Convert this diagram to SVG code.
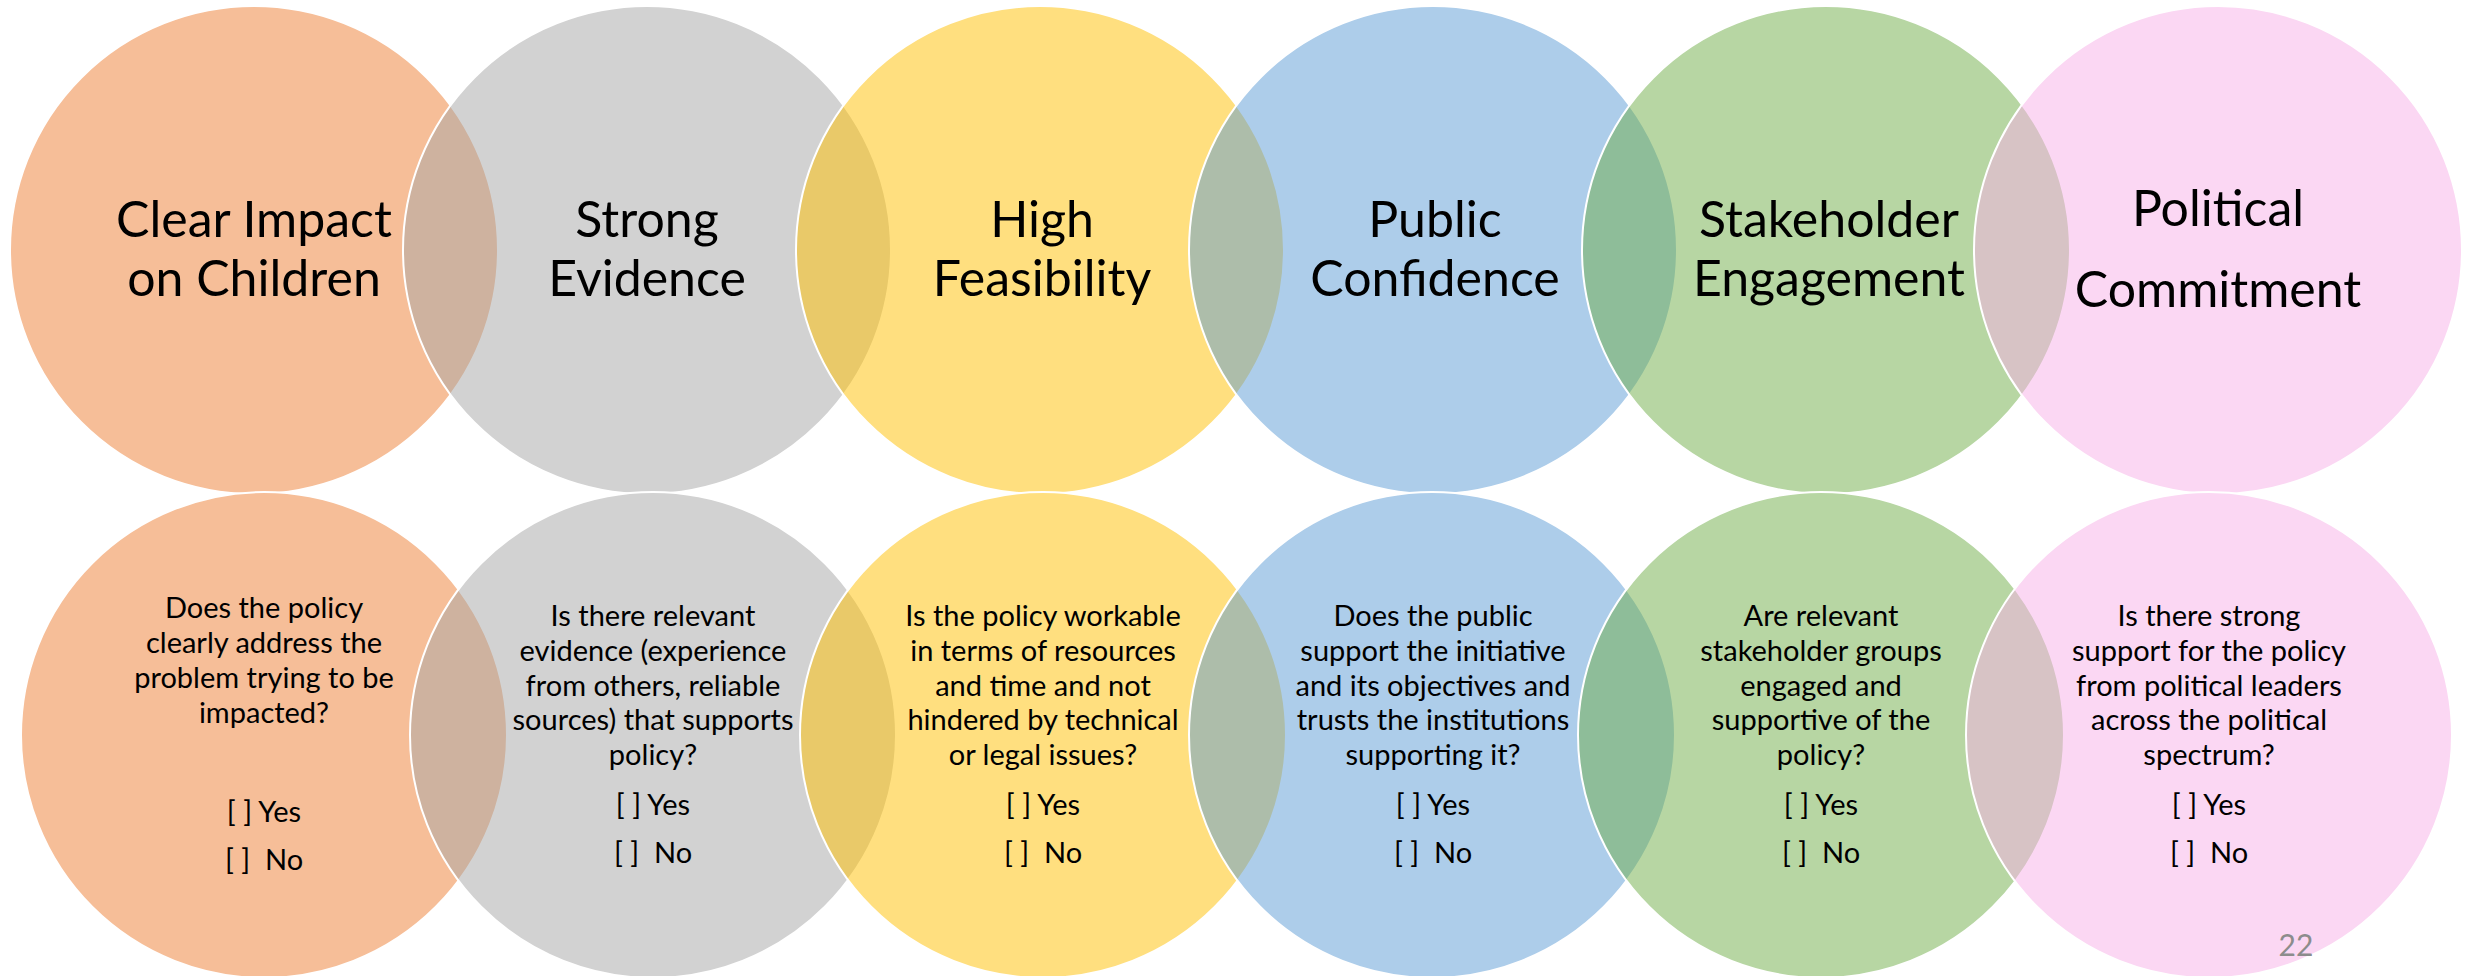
<svg xmlns="http://www.w3.org/2000/svg" width="2471" height="976" viewBox="0 0 2471 976">
<style>
.c{fill-opacity:0.5;stroke:#FFFFFF;stroke-width:2}
.o{fill:#ED7D31}.g{fill:#A5A5A5}.y{fill:#FFC000}.b{fill:#5B9BD5}.gr{fill:#70AD47}.p{fill:#F8B0E8}
.t{font-family:Lato,"Liberation Sans",sans-serif;font-size:50px;fill:#000000;text-anchor:middle}
.q{font-family:Lato,"Liberation Sans",sans-serif;font-size:29px;fill:#000000;text-anchor:middle}
.pg{font-family:Lato,"Liberation Sans",sans-serif;font-size:30px;fill:#8C8C8C;text-anchor:middle}
</style>
<rect x="0" y="0" width="2471" height="976" fill="#FFFFFF"/>
<g id="top-row">
<g id="clear-impact"><circle class="c o" cx="254" cy="250" r="244"/><text class="t"><tspan x="254" y="237">Clear Impact</tspan><tspan x="254" y="296">on Children</tspan></text></g>
<g id="strong-evidence"><circle class="c g" cx="647" cy="250" r="244"/><text class="t"><tspan x="647" y="237">Strong</tspan><tspan x="647" y="296">Evidence</tspan></text></g>
<g id="high-feasibility"><circle class="c y" cx="1040" cy="250" r="244"/><text class="t"><tspan x="1042" y="237">High</tspan><tspan x="1042" y="296">Feasibility</tspan></text></g>
<g id="public-confidence"><circle class="c b" cx="1433" cy="250" r="244"/><text class="t"><tspan x="1435" y="237">Public</tspan><tspan x="1435" y="296">Confidence</tspan></text></g>
<g id="stakeholder-engagement"><circle class="c gr" cx="1826" cy="250" r="244"/><text class="t"><tspan x="1829" y="237">Stakeholder</tspan><tspan x="1829" y="296">Engagement</tspan></text></g>
<g id="political-commitment"><circle class="c p" cx="2218" cy="250" r="244"/><text class="t"><tspan x="2218" y="226">Political</tspan><tspan x="2218" y="307">Commitment</tspan></text></g>
</g>
<g id="bottom-row">
<g id="q-impact"><circle class="c o" cx="264" cy="735" r="243"/><text class="q"><tspan x="264" y="618">Does the policy</tspan><tspan x="264" y="653">clearly address the</tspan><tspan x="264" y="688">problem trying to be</tspan><tspan x="264" y="723">impacted?</tspan><tspan x="264" y="822">[ ] Yes</tspan><tspan x="264" y="870">[ ]&#160; No</tspan></text></g>
<g id="q-evidence"><circle class="c g" cx="653" cy="735" r="243"/><text class="q"><tspan x="653" y="626">Is there relevant</tspan><tspan x="653" y="661">evidence (experience</tspan><tspan x="653" y="696">from others, reliable</tspan><tspan x="653" y="730">sources) that supports</tspan><tspan x="653" y="765">policy?</tspan><tspan x="653" y="815">[ ] Yes</tspan><tspan x="653" y="863">[ ]&#160; No</tspan></text></g>
<g id="q-feasibility"><circle class="c y" cx="1043" cy="735" r="243"/><text class="q"><tspan x="1043" y="626">Is the policy workable</tspan><tspan x="1043" y="661">in terms of resources</tspan><tspan x="1043" y="696">and time and not</tspan><tspan x="1043" y="730">hindered by technical</tspan><tspan x="1043" y="765">or legal issues?</tspan><tspan x="1043" y="815">[ ] Yes</tspan><tspan x="1043" y="863">[ ]&#160; No</tspan></text></g>
<g id="q-confidence"><circle class="c b" cx="1432" cy="735" r="243"/><text class="q"><tspan x="1433" y="626">Does the public</tspan><tspan x="1433" y="661">support the initiative</tspan><tspan x="1433" y="696">and its objectives and</tspan><tspan x="1433" y="730">trusts the institutions</tspan><tspan x="1433" y="765">supporting it?</tspan><tspan x="1433" y="815">[ ] Yes</tspan><tspan x="1433" y="863">[ ]&#160; No</tspan></text></g>
<g id="q-stakeholder"><circle class="c gr" cx="1821" cy="735" r="243"/><text class="q"><tspan x="1821" y="626">Are relevant</tspan><tspan x="1821" y="661">stakeholder groups</tspan><tspan x="1821" y="696">engaged and</tspan><tspan x="1821" y="730">supportive of the</tspan><tspan x="1821" y="765">policy?</tspan><tspan x="1821" y="815">[ ] Yes</tspan><tspan x="1821" y="863">[ ]&#160; No</tspan></text></g>
<g id="q-political"><circle class="c p" cx="2209" cy="735" r="243"/><text class="q"><tspan x="2209" y="626">Is there strong</tspan><tspan x="2209" y="661">support for the policy</tspan><tspan x="2209" y="696">from political leaders</tspan><tspan x="2209" y="730">across the political</tspan><tspan x="2209" y="765">spectrum?</tspan><tspan x="2209" y="815">[ ] Yes</tspan><tspan x="2209" y="863">[ ]&#160; No</tspan></text></g>
</g>
<g id="connectors"></g>
<text id="page-number" class="pg" x="2296" y="956">22</text>
</svg>
